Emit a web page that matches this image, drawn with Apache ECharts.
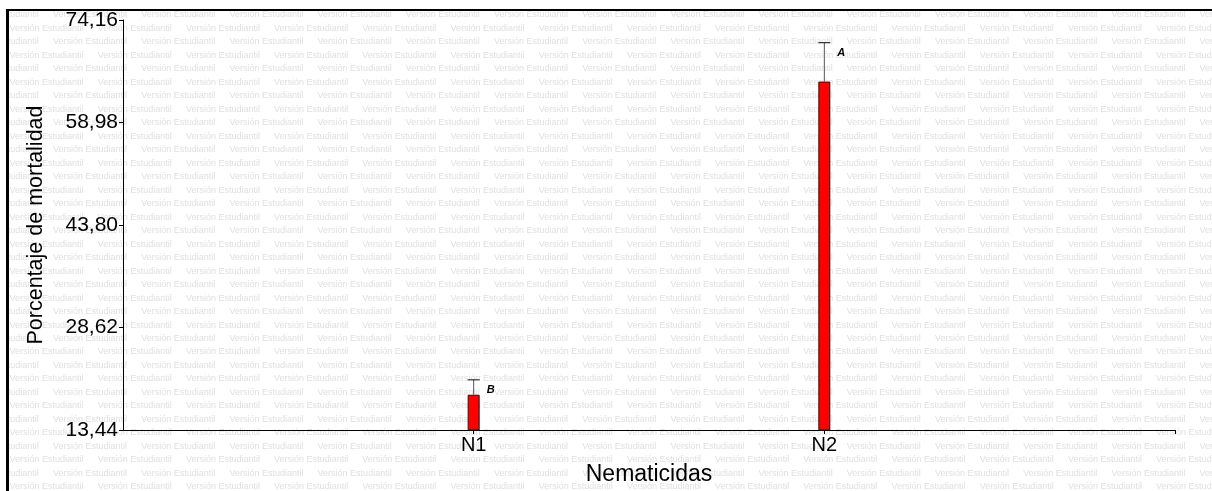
<!DOCTYPE html>
<html>
<head>
<meta charset="utf-8">
<script src="https://cdn.jsdelivr.net/npm/echarts@6/dist/echarts.min.js"></script>
<style>
  html, body { margin: 0; padding: 0; background: #fff; }
  #chart { width: 1212px; height: 491px; }
</style>
</head>
<body>
<div id="chart"></div>
<script>
// Treatments and their mean mortality (%), standard error and significance letter
const categories = ['N1', 'N2'];
const meanValues = [18.66, 65.04];
const errorValues = [2.21, 5.76];
const groupLetters = ['B', 'A'];
const yTicks = [13.44, 28.62, 43.80, 58.98, 74.16];

const FONT = 'Liberation Sans, Arial, sans-serif';
const W = 1212, H = 491;

// Category slots: an empty slot at each end keeps the two bars at 1/3 and 2/3 of the axis
const axisCats = [''].concat(categories, ['']);
const barData = axisCats.map(c => {
  const i = categories.indexOf(c);
  return i < 0 ? null : meanValues[i];
});
const errData = categories.map((c, i) => [i + 1, meanValues[i], errorValues[i], groupLetters[i]]);

// Repeated "Versión Estudiantil" stamp across the background
const stamp = [];
const rowStep = 13.48, period = 88.2;
for (let r = 0; r < 36; r++) {
  const y = 15 + r * rowStep;
  let x = (r % 2 === 0) ? -35.2 : 9.5;
  for (; x < W; x += period) {
    stamp.push({
      type: 'text', z: -10, silent: true,
      style: { x: x, y: y, text: 'Versión Estudiantil', fill: '#e0e0e0',
               font: '9px ' + FONT, verticalAlign: 'middle', align: 'left' }
    });
  }
}

const chart = echarts.init(document.getElementById('chart'), null, { renderer: 'canvas' });
chart.setOption({
  animation: false,
  backgroundColor: '#ffffff',
  grid: { left: 123, right: 37, top: 20, bottom: 60, containLabel: false },
  xAxis: {
    type: 'category',
    data: axisCats,
    boundaryGap: false,
    name: 'Nematicidas',
    nameLocation: 'middle',
    nameGap: 33,
    nameTextStyle: { color: '#000', fontSize: 23, fontFamily: FONT },
    axisLine: { onZero: false, lineStyle: { color: '#000', width: 1 } },
    axisTick: { length: 4, interval: (i) => i > 0, lineStyle: { color: '#000' } },
    axisLabel: { color: '#000', fontSize: 20, fontFamily: FONT, margin: 5, interval: 0 },
    splitLine: { show: false }
  },
  yAxis: {
    type: 'value',
    min: yTicks[0],
    max: yTicks[yTicks.length - 1],
    name: 'Porcentaje de mortalidad',
    nameLocation: 'middle',
    nameRotate: 90,
    nameGap: 76,
    nameTextStyle: { color: '#000', fontSize: 21.5, fontFamily: FONT },
    axisLine: { show: true, lineStyle: { color: '#000', width: 1 } },
    axisTick: { show: true, length: 4, customValues: yTicks, lineStyle: { color: '#000' } },
    axisLabel: {
      color: '#000', fontSize: 21, fontFamily: FONT, margin: 5,
      customValues: yTicks,
      formatter: v => v.toFixed(2).replace('.', ',')
    },
    splitLine: { show: false }
  },
  series: [
    {
      type: 'bar',
      data: barData,
      barWidth: 12,
      clip: true,
      itemStyle: { color: '#ff0000', borderColor: '#1a1a1a', borderWidth: 1 },
      z: 3
    },
    {
      type: 'custom',
      data: errData,
      z: 4,
      renderItem: (params, api) => {
        const x = api.value(0);
        const base = api.coord([x, api.value(1)]);
        const top = api.coord([x, api.value(1) + api.value(2)]);
        const letter = groupLetters[params.dataIndex];
        return {
          type: 'group',
          children: [
            { type: 'line', shape: { x1: base[0], y1: base[1], x2: top[0], y2: top[1] },
              style: { stroke: '#555', lineWidth: 1 } },
            { type: 'line', shape: { x1: top[0] - 6, y1: top[1], x2: top[0] + 6, y2: top[1] },
              style: { stroke: '#111', lineWidth: 1 } },
            { type: 'text', style: { x: top[0] + 13, y: top[1] + 10, text: letter,
              font: 'italic bold 11px ' + FONT, fill: '#000', verticalAlign: 'middle', align: 'left' } }
          ]
        };
      }
    }
  ],
  graphic: {
    elements: stamp.concat([
      // white margin left of the frame, then the frame's top and left edges
      { type: 'rect', z: 100, silent: true, shape: { x: 0, y: 0, width: 6, height: H }, style: { fill: '#fff' } },
      { type: 'rect', z: 101, silent: true, shape: { x: 6, y: 9, width: W - 6, height: 2 }, style: { fill: '#000' } },
      { type: 'rect', z: 101, silent: true, shape: { x: 6, y: 9, width: 3, height: H - 9 }, style: { fill: '#000' } }
    ])
  }
});
</script>
</body>
</html>
